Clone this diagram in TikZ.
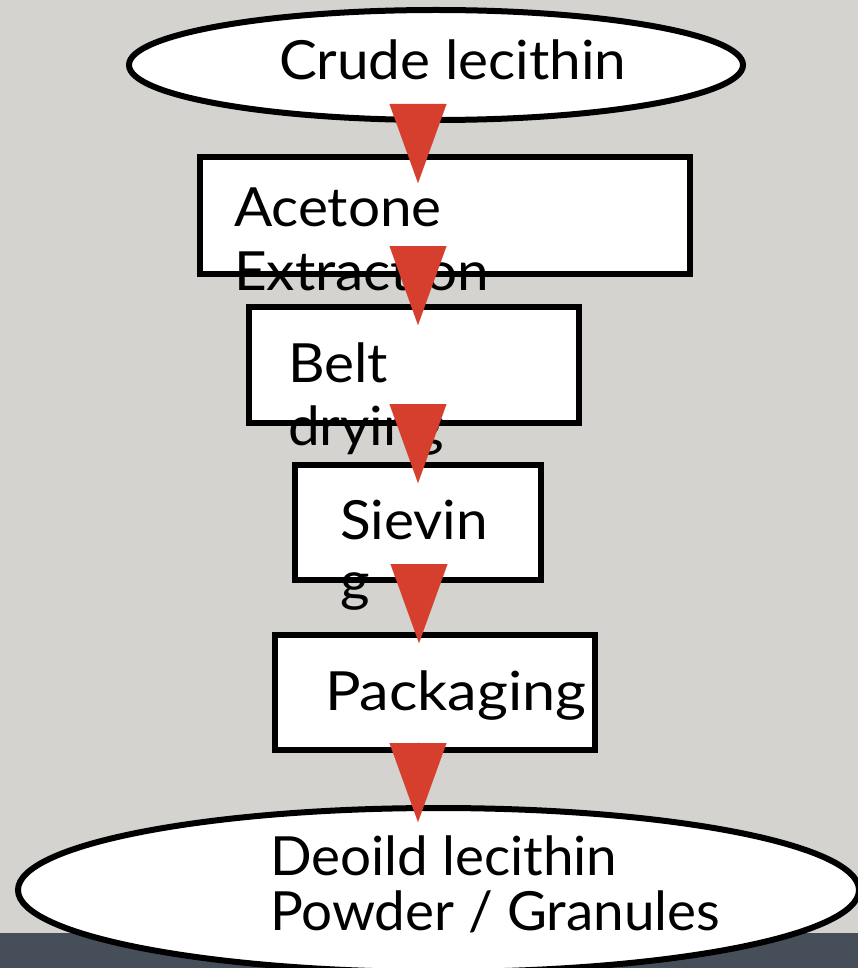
\documentclass[tikz,border=0pt]{standalone}
\usepackage{fontspec}
\setmainfont{Lato}[FakeStretch=1.05]
\newfontfamily\widelato{Lato}[FakeStretch=1.1]
\newfontfamily\narrowlato{Lato}[FakeStretch=1.015]
\usetikzlibrary{calc,arrows.meta,shapes.geometric}
\definecolor{bgray}{RGB}{212,211,207}
\definecolor{dstrip}{RGB}{70,79,89}
\definecolor{arrred}{RGB}{214,63,45}
\tikzset{
  x=1pt,y=-1pt,
  oval/.style={ellipse,draw=black,fill=white,line width=6pt,inner sep=0pt,outer sep=0pt},
  stepbox/.style={rectangle,draw=black,fill=white,line width=6pt,inner sep=0pt,outer sep=0pt},
  lbl/.style={anchor=base west,inner sep=0pt,outer sep=0pt,font=\fontsize{54}{60}\selectfont,text=black},
  flow/.style={draw=arrred,fill=arrred,line width=0.01pt,-{Triangle[width=57pt,length=79pt]}}
}
\begin{document}
\begin{tikzpicture}
\useasboundingbox (0,0) rectangle (858,968);
\clip (0,0) rectangle (858,968);
\fill[bgray] (0,0) rectangle (858,968);
\fill[dstrip] (0,933) rectangle (858,968);
\coordinate (ax) at (418,0);
% nodes
\node[oval,minimum width=614pt,minimum height=110pt] (crude) at (436,65) {};
\node[lbl] (crudet) at (279,80) {Crude lecithin};
\node[stepbox,minimum width=490pt,minimum height=117pt] (acet) at (445,215.5) {};
\node[lbl] (acett1) at (234,226) {Acetone};
\node[lbl] (acett2) at (234,290) {Extraction};
\node[stepbox,minimum width=330pt,minimum height=116pt] (belt) at (414,365) {};
\node[lbl] (beltt1) at (288,382) {Belt};
\node[lbl] (beltt2) at (288,445) {drying};
\node[stepbox,minimum width=246pt,minimum height=115pt] (siev) at (418,522.5) {};
\node[lbl] (sievt1) at (340,539) {Sievin};
\node[lbl] (sievt2) at (340,600) {g};
\node[stepbox,minimum width=320pt,minimum height=115pt] (pack) at (435,692.5) {};
\node[lbl,font=\widelato\fontsize{54}{60}\selectfont] (packt) at (325,710) {Packaging};
\node[oval,minimum width=841pt,minimum height=164pt] (deoil) at (438.5,890) {};
\node[lbl,font=\narrowlato\fontsize{54}{60}\selectfont] (deoilt1) at (270,875) {Deoild lecithin};
\node[lbl,font=\narrowlato\fontsize{54}{60}\selectfont] (deoilt2) at (270,930) {Powder / Granules};
% connectors
\draw[flow] ($(crude.south -| ax)+(0,-16)$) -- ($(acet.north -| ax)+(0,26)$);
\draw[flow] ($(acet.south -| ax)+(0,-28)$) -- ($(belt.north -| ax)+(0,18)$);
\draw[flow] ($(belt.south -| ax)+(0,-19)$) -- ($(siev.north -| ax)+(0,18)$);
\draw[flow] ($(siev.south -| ax)+(1,-15)$) -- ($(pack.north -| ax)+(1,8)$);
\draw[flow] ($(pack.south -| ax)+(0,-8)$) -- ($(deoil.north -| ax)+(0,14)$);
\end{tikzpicture}
\end{document}
